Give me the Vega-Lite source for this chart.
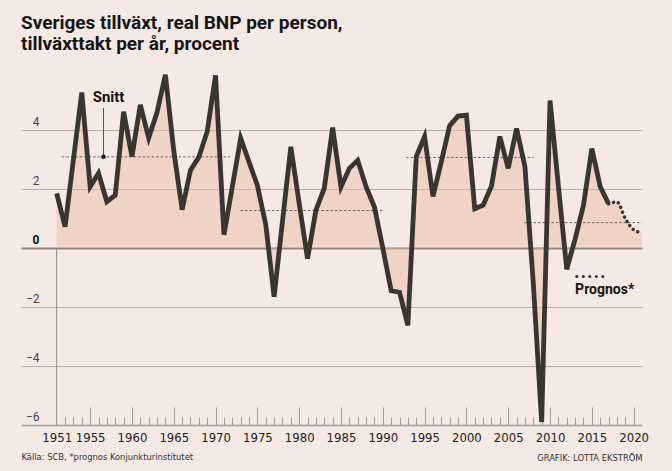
{
  "$schema": "https://vega.github.io/schema/vega-lite/v6.json",
  "autosize": "none",
  "padding": {"left": 21, "top": 71, "right": 30, "bottom": 46},
  "width": 621,
  "height": 354,
  "background": "#f6e8e3",
  "config": {"view": {"stroke": null}},
  "title": {
    "text": ["Sveriges tillväxt, real BNP per person,", "tillväxttakt per år, procent"],
    "anchor": "start",
    "frame": "group",
    "font": "Roboto",
    "fontSize": 19,
    "fontWeight": "bold",
    "color": "#151515",
    "lineHeight": 21,
    "offset": 11
  },
  "datasets": {
    "bnp": [
      {"year": 1951, "bnp": 1.85}, {"year": 1952, "bnp": 0.72}, {"year": 1953, "bnp": 3.0},
      {"year": 1954, "bnp": 5.27}, {"year": 1955, "bnp": 2.08}, {"year": 1956, "bnp": 2.53},
      {"year": 1957, "bnp": 1.57}, {"year": 1958, "bnp": 1.79}, {"year": 1959, "bnp": 4.62},
      {"year": 1960, "bnp": 3.1}, {"year": 1961, "bnp": 4.85}, {"year": 1962, "bnp": 3.73},
      {"year": 1963, "bnp": 4.6}, {"year": 1964, "bnp": 5.87}, {"year": 1965, "bnp": 3.3},
      {"year": 1966, "bnp": 1.3}, {"year": 1967, "bnp": 2.64}, {"year": 1968, "bnp": 3.08},
      {"year": 1969, "bnp": 3.95}, {"year": 1970, "bnp": 5.85}, {"year": 1971, "bnp": 0.45},
      {"year": 1972, "bnp": 2.07}, {"year": 1973, "bnp": 3.72}, {"year": 1974, "bnp": 2.92},
      {"year": 1975, "bnp": 2.12}, {"year": 1976, "bnp": 0.8}, {"year": 1977, "bnp": -1.65},
      {"year": 1978, "bnp": 0.9}, {"year": 1979, "bnp": 3.43}, {"year": 1980, "bnp": 1.51},
      {"year": 1981, "bnp": -0.36}, {"year": 1982, "bnp": 1.28}, {"year": 1983, "bnp": 2.02},
      {"year": 1984, "bnp": 4.08}, {"year": 1985, "bnp": 2.07}, {"year": 1986, "bnp": 2.7},
      {"year": 1987, "bnp": 2.97}, {"year": 1988, "bnp": 2.08}, {"year": 1989, "bnp": 1.39},
      {"year": 1990, "bnp": 0.0}, {"year": 1991, "bnp": -1.45}, {"year": 1992, "bnp": -1.5},
      {"year": 1993, "bnp": -2.62}, {"year": 1994, "bnp": 3.1}, {"year": 1995, "bnp": 3.78},
      {"year": 1996, "bnp": 1.75}, {"year": 1997, "bnp": 2.93}, {"year": 1998, "bnp": 4.15},
      {"year": 1999, "bnp": 4.47}, {"year": 2000, "bnp": 4.5}, {"year": 2001, "bnp": 1.33},
      {"year": 2002, "bnp": 1.45}, {"year": 2003, "bnp": 2.1}, {"year": 2004, "bnp": 3.78},
      {"year": 2005, "bnp": 2.7}, {"year": 2006, "bnp": 4.05}, {"year": 2007, "bnp": 2.76},
      {"year": 2008, "bnp": -1.2}, {"year": 2009, "bnp": -5.9}, {"year": 2010, "bnp": 5.0},
      {"year": 2011, "bnp": 2.1}, {"year": 2012, "bnp": -0.72}, {"year": 2013, "bnp": 0.3},
      {"year": 2014, "bnp": 1.45}, {"year": 2015, "bnp": 3.37}, {"year": 2016, "bnp": 2.08},
      {"year": 2017, "bnp": 1.5}, {"year": 2018, "bnp": 1.56}, {"year": 2019, "bnp": 1.0},
      {"year": 2020, "bnp": 0.62}, {"year": 2021, "bnp": 0.52}
    ],
    "snitt": [
      {"start": 1951.6, "end": 1971.74, "avg": 3.09},
      {"start": 1972.97, "end": 1990.12, "avg": 1.27},
      {"start": 1992.8, "end": 2008.03, "avg": 3.07},
      {"start": 2006.95, "end": 2021, "avg": 0.86}
    ]
  },
  "resolve": {"axis": {"x": "independent"}},
  "layer": [
    {
      "data": {"name": "bnp"},
      "mark": {"type": "area", "color": "#e9b9a4", "opacity": 0.45},
      "encoding": {
        "x": {
          "field": "year", "type": "quantitative",
          "scale": {"domain": [1946.73, 2021], "nice": false, "zero": false},
          "axis": {
            "orient": "bottom",
            "values": [1951, 1955, 1960, 1965, 1970, 1975, 1980, 1985, 1990, 1995, 2000, 2005, 2010, 2015, 2020],
            "format": "d", "grid": false, "ticks": false,
            "domain": true, "domainColor": "#a39b97", "domainWidth": 1.5,
            "labelFont": "Liberation Sans Narrow, DejaVu Sans Condensed, Roboto, sans-serif",
            "labelFontSize": 13, "labelColor": "#222222", "labelPadding": 6,
            "labelFlush": false, "labelOverlap": false,
            "title": "Källa: SCB, *prognos Konjunkturinstitutet",
            "titleAnchor": "start", "titleAlign": "left", "titleBaseline": "top",
            "titleFont": "Liberation Sans Narrow, DejaVu Sans Condensed, Roboto, sans-serif",
            "titleFontSize": 9.3, "titleFontWeight": "normal", "titleColor": "#333333",
            "titlePadding": 8
          }
        },
        "y": {
          "field": "bnp", "type": "quantitative",
          "scale": {"domain": [-6, 6], "nice": false, "zero": false},
          "axis": {
            "title": null,
            "values": [-6, -4, -2, 0, 2, 4],
            "domain": false, "ticks": false, "grid": true,
            "gridColor": {"condition": {"test": "datum.value === 0", "value": "#8e8682"}, "value": "#b9afab"},
            "gridWidth": {"condition": {"test": "datum.value === 0", "value": 2}, "value": 1},
            "labelAlign": "right", "labelBaseline": "alphabetic", "labelPadding": -18,
            "labelOffset": -5,
            "labelFont": "Roboto", "labelFontSize": 12,
            "labelFontWeight": {"condition": {"test": "datum.value === 0", "value": "bold"}, "value": "normal"},
            "labelColor": {"condition": {"test": "datum.value === 0", "value": "#111111"}, "value": "#444444"},
            "labelOverlap": false
          }
        },
        "y2": {"datum": 0}
      }
    },
    {
      "data": {"values": [{}]},
      "mark": {"type": "rule", "color": "#8e8682", "strokeWidth": 1},
      "encoding": {
        "x": {"datum": 1951, "type": "quantitative", "axis": null},
        "y": {"datum": -6, "type": "quantitative"},
        "y2": {"datum": 0}
      }
    },
    {
      "data": {"name": "snitt"},
      "mark": {"type": "rule", "color": "#6e6660", "strokeWidth": 1, "strokeDash": [2.5, 2]},
      "encoding": {
        "x": {"field": "start", "type": "quantitative", "axis": null},
        "x2": {"field": "end"},
        "y": {"field": "avg", "type": "quantitative", "axis": {"title": null}}
      }
    },
    {
      "data": {"name": "bnp"},
      "transform": [{"filter": "datum.year <= 2017"}],
      "mark": {"type": "line", "color": "#38362f", "strokeWidth": 4.8},
      "encoding": {
        "x": {
          "field": "year", "type": "quantitative",
          "axis": {
            "orient": "bottom",
            "values": [1952, 1953, 1954, 1955, 1956, 1957, 1958, 1959, 1960, 1961, 1962, 1963, 1964, 1965, 1966, 1967, 1968, 1969, 1970, 1971, 1972, 1973, 1974, 1975, 1976, 1977, 1978, 1979, 1980, 1981, 1982, 1983, 1984, 1985, 1986, 1987, 1988, 1989, 1990, 1991, 1992, 1993, 1994, 1995, 1996, 1997, 1998, 1999, 2000, 2001, 2002, 2003, 2004, 2005, 2006, 2007, 2008, 2009, 2010, 2011, 2012, 2013, 2014, 2015, 2016, 2017, 2018, 2019],
            "grid": false, "domain": false, "labels": false, "ticks": true,
            "tickSize": -8, "tickColor": "#a39b97", "tickWidth": 1,
            "title": "GRAFIK: LOTTA EKSTRÖM",
            "titleAnchor": "end", "titleAlign": "right", "titleBaseline": "top",
            "titleFont": "Liberation Sans Narrow, DejaVu Sans Condensed, Roboto, sans-serif",
            "titleFontSize": 9.3, "titleFontWeight": "normal", "titleColor": "#333333",
            "titlePadding": 28
          }
        },
        "y": {"field": "bnp", "type": "quantitative", "axis": {"title": null}}
      }
    },
    {
      "data": {"name": "bnp"},
      "transform": [{"filter": "datum.year >= 2017"}],
      "mark": {"type": "line", "color": "#38362f", "strokeWidth": 3.5, "strokeDash": [0.1, 5], "strokeCap": "round", "interpolate": "monotone"},
      "encoding": {
        "x": {
          "field": "year", "type": "quantitative",
          "axis": {
            "orient": "bottom",
            "values": [1955, 1960, 1965, 1970, 1975, 1980, 1985, 1990, 1995, 2000, 2005, 2010, 2015, 2020],
            "grid": false, "domain": false, "labels": false, "ticks": true,
            "tickSize": -18, "tickColor": "#a39b97", "tickWidth": 1,
            "title": null
          }
        },
        "y": {"field": "bnp", "type": "quantitative", "axis": {"title": null}}
      }
    },
    {
      "data": {"values": [{}]},
      "mark": {"type": "rule", "color": "#555555", "strokeWidth": 1},
      "encoding": {
        "x": {"datum": 1956.6, "type": "quantitative", "axis": null},
        "y": {"datum": 4.75, "type": "quantitative"},
        "y2": {"datum": 3.09}
      }
    },
    {
      "data": {"values": [{}]},
      "mark": {"type": "point", "filled": true, "color": "#222222", "size": 22, "opacity": 1},
      "encoding": {
        "x": {"datum": 1956.6, "type": "quantitative", "axis": null},
        "y": {"datum": 3.09, "type": "quantitative"}
      }
    },
    {
      "data": {"values": [{}]},
      "mark": {"type": "text", "text": "Snitt", "font": "Roboto", "fontSize": 15, "fontWeight": "bold", "color": "#151515", "align": "center", "baseline": "alphabetic"},
      "encoding": {
        "x": {"datum": 1957.2, "type": "quantitative", "axis": null},
        "y": {"datum": 4.94, "type": "quantitative"}
      }
    },
    {
      "data": {"values": [{}]},
      "mark": {"type": "rule", "color": "#38362f", "strokeWidth": 3, "strokeDash": [0.1, 6.4], "strokeCap": "round"},
      "encoding": {
        "x": {"datum": 2013.2, "type": "quantitative", "axis": null},
        "x2": {"datum": 2016.4},
        "y": {"datum": -0.97, "type": "quantitative"}
      }
    },
    {
      "data": {"values": [{}]},
      "mark": {"type": "text", "text": "Prognos*", "font": "Roboto", "fontSize": 14, "fontWeight": "bold", "color": "#151515", "align": "left", "baseline": "alphabetic"},
      "encoding": {
        "x": {"datum": 2013.0, "type": "quantitative", "axis": null},
        "y": {"datum": -1.55, "type": "quantitative"}
      }
    }
  ]
}
